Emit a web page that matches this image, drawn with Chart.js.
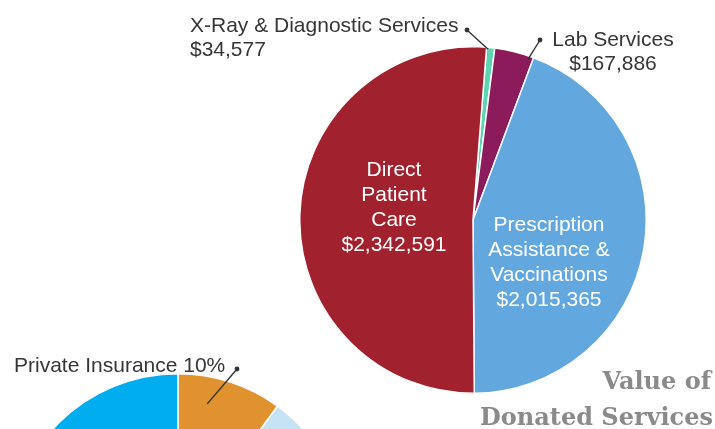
<!DOCTYPE html>
<html>
<head>
<meta charset="utf-8">
<script src="https://cdn.jsdelivr.net/npm/chart.js@4"></script>
<style>
  html, body { margin: 0; padding: 0; width: 715px; height: 429px; overflow: hidden; background: #fff; }
  .wrap { position: relative; width: 715px; height: 429px; overflow: hidden; }
  canvas { position: absolute; left: 0; top: 0; }
</style>
</head>
<body>
<div class="wrap">
  <canvas id="donatedCanvas" width="715" height="429"></canvas>
  <canvas id="payerCanvas" width="715" height="720"></canvas>
</div>
<script>
// Value of donated services (USD)
const donationLabels = ['X-Ray & Diagnostic Services', 'Lab Services', 'Prescription Assistance & Vaccinations', 'Direct Patient Care'];
const donationValues = [34577, 167886, 2015365, 2342591];
const donationColors = ['#5dd5b3', '#8b1b5b', '#62a8de', '#a2212f'];

// Payer mix (partly visible pie, only "Private Insurance" is labelled)
const payerLabels = ['Private Insurance', 'Public Programs', 'Other', 'Uninsured'];
const payerShares = [10, 30, 35, 25];
const payerColors = ['#e0922f', '#c6e3f6', '#9fd2ef', '#00aeef'];

const titleLines = ['Value of', 'Donated Services'];

const FONT = '"Liberation Sans", Arial, sans-serif';
const TEXT_DARK = '#363636';
const money = v => '$' + v.toLocaleString('en-US');

// label layout for the donated services pie
const donatedLabelSpec = [
    { lines: [donationLabels[0], money(donationValues[0])], x: 190, y: 32, align: 'left', color: TEXT_DARK,
      dot: [467, 30], anchorFrac: 0.2, anchorR: 0.99 },
    { lines: [donationLabels[1], money(donationValues[1])], x: 613, y: 46, align: 'center', color: TEXT_DARK,
      dot: [540, 40], anchorFrac: 0.88, anchorR: 0.98 },
    { lines: ['Prescription', 'Assistance &', 'Vaccinations', money(donationValues[2])], x: 549, y: 231, align: 'center', color: '#fff' },
    { lines: ['Direct', 'Patient', 'Care', money(donationValues[3])], x: 394, y: 176, align: 'center', color: '#fff' }
];

function drawLeader(ctx, arc, spec) {
    const ang = arc.startAngle + (arc.endAngle - arc.startAngle) * spec.anchorFrac;
    const r = arc.outerRadius * spec.anchorR;
    const ex = arc.x + Math.cos(ang) * r;
    const ey = arc.y + Math.sin(ang) * r;
    ctx.strokeStyle = '#333';
    ctx.lineWidth = 1.4;
    ctx.beginPath();
    ctx.moveTo(spec.dot[0], spec.dot[1]);
    ctx.lineTo(ex, ey);
    ctx.stroke();
    ctx.fillStyle = '#333';
    ctx.beginPath();
    ctx.arc(spec.dot[0], spec.dot[1], 2.4, 0, Math.PI * 2);
    ctx.fill();
}

function drawLines(ctx, spec, lineH) {
    ctx.fillStyle = spec.color;
    ctx.textAlign = spec.align;
    ctx.textBaseline = 'alphabetic';
    spec.lines.forEach((t, i) => ctx.fillText(t, spec.x, spec.y + i * lineH));
}

const donatedLabelsPlugin = {
    id: 'donatedLabels',
    afterDraw(chart) {
        const ctx = chart.ctx;
        const arcs = chart.getDatasetMeta(0).data;
        ctx.save();
        ctx.font = '21px ' + FONT;
        donatedLabelSpec.forEach((spec, i) => {
            if (spec.dot) drawLeader(ctx, arcs[i], spec);
            drawLines(ctx, spec, spec.dot ? 24 : 25);
        });

        // title
        ctx.font = 'bold 24px "DejaVu Serif", Georgia, serif';
        ctx.fillStyle = '#8a8a8a';
        ctx.textAlign = 'right';
        ctx.fillText(titleLines[0], 711, 389);
        ctx.fillText(titleLines[1], 713, 425);
        ctx.restore();
    }
};

const payerLabelPlugin = {
    id: 'payerLabel',
    afterDraw(chart) {
        const ctx = chart.ctx;
        const arcs = chart.getDatasetMeta(0).data;
        ctx.save();
        ctx.font = '21px ' + FONT;
        const spec = { lines: [payerLabels[0] + ' ' + payerShares[0] + '%'], x: 14, y: 372, align: 'left', color: TEXT_DARK,
                       dot: [237, 369], anchorFrac: 0.33, anchorR: 0.84 };
        drawLeader(ctx, arcs[0], spec);
        drawLines(ctx, spec, 24);
        ctx.restore();
    }
};

new Chart(document.getElementById('donatedCanvas').getContext('2d'), {
    type: 'pie',
    data: {
        labels: donationLabels,
        datasets: [{
            data: donationValues,
            backgroundColor: donationColors,
            borderColor: '#ffffff',
            borderWidth: 1.5
        }]
    },
    options: {
        responsive: false,
        animation: false,
        rotation: 4.5,
        layout: { padding: { left: 299, top: 46, right: 68, bottom: 35 } },
        plugins: { legend: { display: false }, tooltip: { enabled: false } }
    },
    plugins: [donatedLabelsPlugin]
});

new Chart(document.getElementById('payerCanvas').getContext('2d'), {
    type: 'pie',
    data: {
        labels: payerLabels,
        datasets: [{
            data: payerShares,
            backgroundColor: payerColors,
            borderColor: '#ffffff',
            borderWidth: 1.5
        }]
    },
    options: {
        responsive: false,
        animation: false,
        layout: { padding: { left: 8, top: 373, right: 367, bottom: 7 } },
        plugins: { legend: { display: false }, tooltip: { enabled: false } }
    },
    plugins: [payerLabelPlugin]
});
</script>
</body>
</html>
